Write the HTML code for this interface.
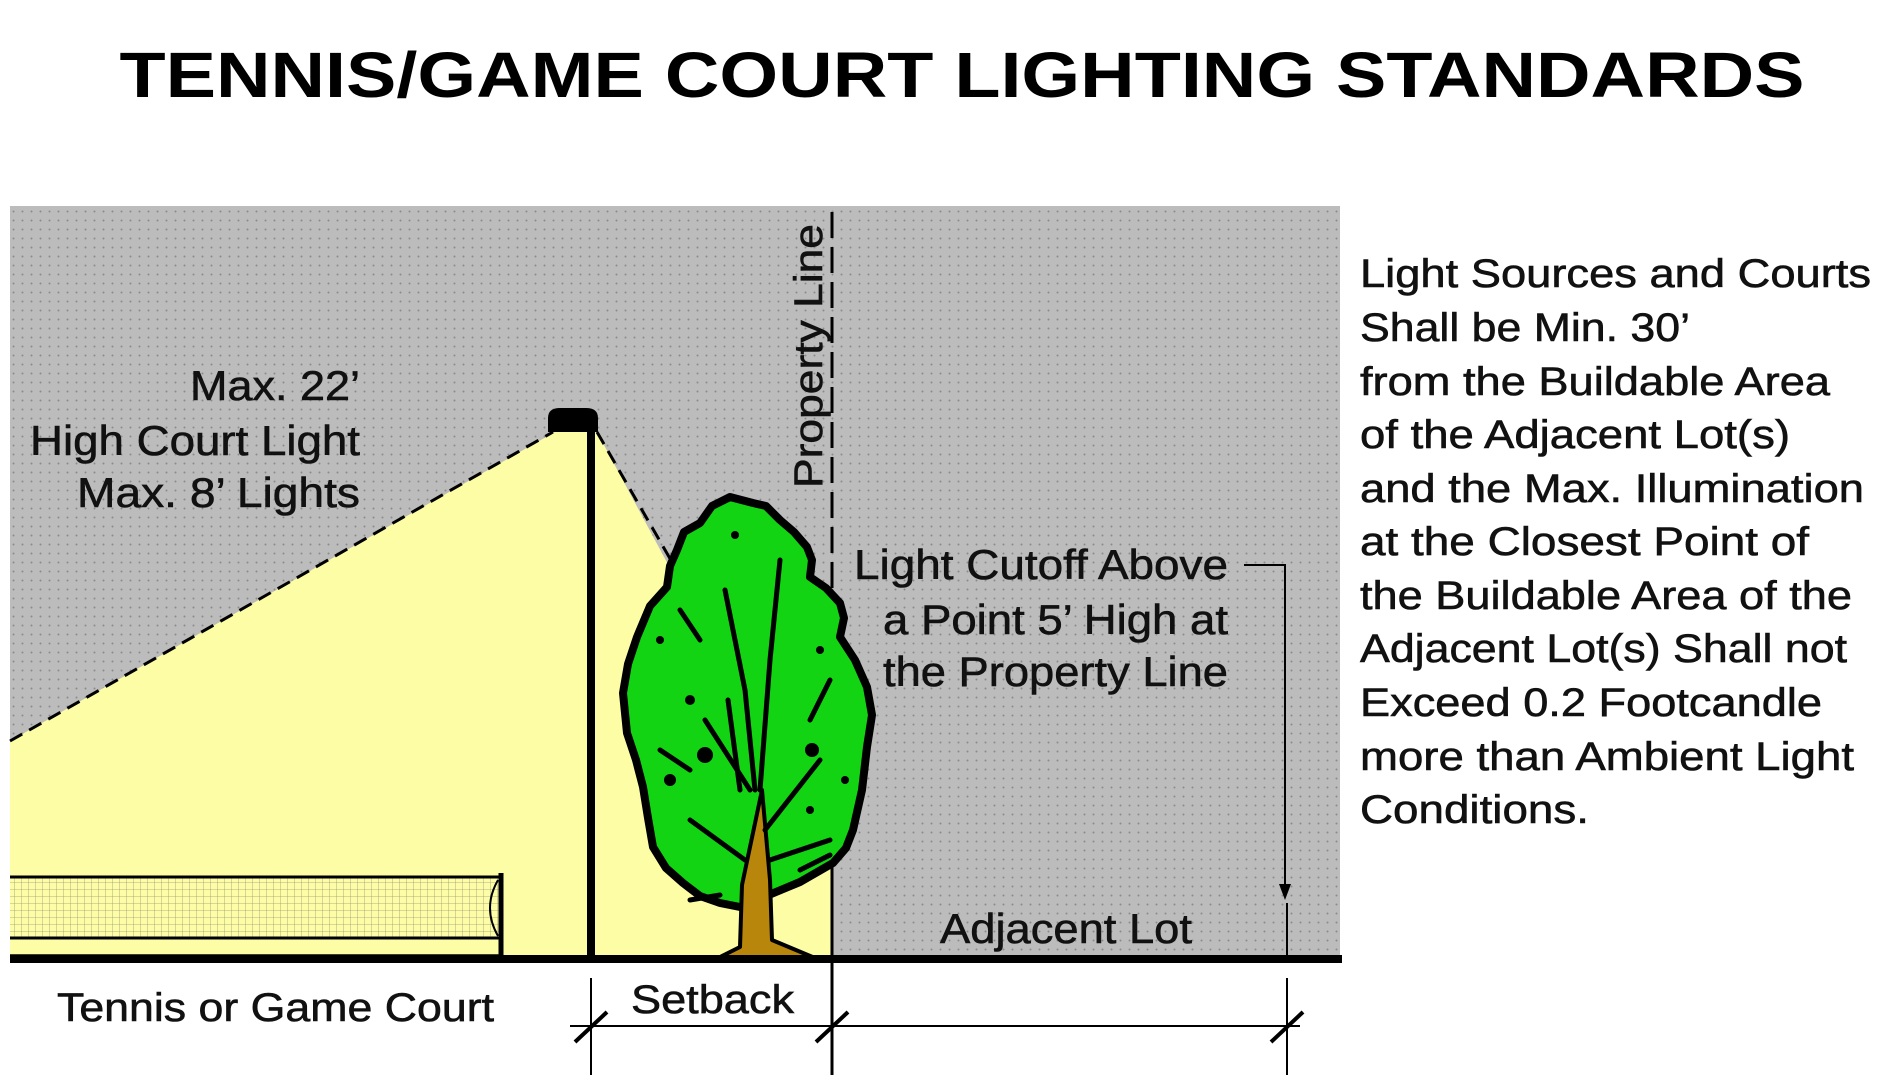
<!DOCTYPE html>
<html><head><meta charset="utf-8"><style>
html,body{margin:0;padding:0;background:#fff;}
svg{display:block;font-family:"Liberation Sans",Arial,sans-serif;}
</style></head><body>
<svg width="1898" height="1087" viewBox="0 0 1898 1087" xmlns="http://www.w3.org/2000/svg">
<defs>
<pattern id="dots" width="9" height="9" patternUnits="userSpaceOnUse">
<rect width="9" height="9" fill="#bcbcbc"/><circle cx="4.5" cy="4.5" r="1" fill="#8a8a8a"/>
</pattern>
<pattern id="grid" width="7" height="7" patternUnits="userSpaceOnUse">
<rect width="7" height="7" fill="#fdfda8"/><path d="M0 0H7M0 0V7" stroke="#9a9a70" stroke-width="0.8"/>
</pattern>
</defs>
<text x="962" y="97" text-anchor="middle" font-weight="bold" font-size="64" textLength="1685" lengthAdjust="spacingAndGlyphs">TENNIS/GAME COURT LIGHTING STANDARDS</text>

<rect x="10" y="206" width="1330" height="752" fill="url(#dots)"/>
<polygon points="10,741 555,432 597,432 832,870 832,958 10,958" fill="#fdfda5"/>
<line x1="10" y1="741" x2="553" y2="432" stroke="#000" stroke-width="3" stroke-dasharray="14,8"/>
<line x1="597" y1="432" x2="672" y2="562" stroke="#000" stroke-width="3" stroke-dasharray="14,8"/>

<!-- net -->
<rect x="10" y="877" width="490" height="61" fill="url(#grid)"/>
<line x1="10" y1="877" x2="500" y2="877" stroke="#000" stroke-width="3"/>
<line x1="10" y1="938" x2="500" y2="938" stroke="#000" stroke-width="3"/>
<line x1="10" y1="955" x2="500" y2="955" stroke="#000" stroke-width="1.5"/>
<path d="M498 880 Q482 908 498 936" fill="none" stroke="#000" stroke-width="2"/>
<line x1="501" y1="873" x2="501" y2="960" stroke="#000" stroke-width="5"/>

<!-- pole & lamp -->
<line x1="591" y1="430" x2="591" y2="960" stroke="#000" stroke-width="8"/>
<path d="M548 432 V418 Q548 408 560 408 H586 Q598 408 598 418 V432 Z" fill="#000"/>

<!-- property line -->
<line x1="832" y1="212" x2="832" y2="870" stroke="#000" stroke-width="3" stroke-dasharray="26,9"/>
<line x1="832" y1="868" x2="832" y2="1075" stroke="#000" stroke-width="3"/>

<!-- tree -->
<path d="M730,497 L712,506 L700,523 L684,532 L677,550 L670,566 L667,587 L650,606 L637,637 L628,664 L623,693 L627,733 L636,760 L643,787 L648,818 L653,847 L666,868 L683,883 L700,896 L720,903 L740,907 L800,882 L833,863 L846,848 L853,830 L862,790 L867,747 L872,715 L867,687 L855,660 L840,637 L844,618 L840,603 L826,588 L810,577 L812,560 L807,547 L794,532 L780,520 L766,506 L753,503 Z" fill="#12d412" stroke="#000" stroke-width="8" stroke-linejoin="round"/>
<path d="M742,885 L740,947 L718,958 L815,958 L772,940 L770,880 L762,790 Z" fill="#b8860b" stroke="#000" stroke-width="4" stroke-linejoin="round"/>
<g stroke="#000" stroke-width="5" fill="none" stroke-linecap="round">
<path d="M755 790 L745 690 L725 590"/><path d="M760 790 L770 660 L780 560"/><path d="M750 790 L705 720"/>
<path d="M765 830 L820 760"/><path d="M745 860 L690 820"/><path d="M770 860 L830 840"/>
<path d="M700 640 L680 610"/><path d="M810 720 L830 680"/><path d="M740 790 L728 700"/>
<path d="M660 750 L690 770"/><path d="M800 870 L830 855"/><path d="M690 900 L720 895"/>
</g>
<g fill="#000"><circle cx="690" cy="700" r="5"/><circle cx="820" cy="650" r="4"/><circle cx="735" cy="535" r="4"/><circle cx="845" cy="780" r="4"/><circle cx="670" cy="780" r="6"/><circle cx="810" cy="810" r="4"/><circle cx="705" cy="755" r="8"/><circle cx="812" cy="750" r="7"/><circle cx="660" cy="640" r="4"/></g>

<!-- ground -->
<rect x="10" y="955" width="1332" height="8" fill="#000"/>

<!-- labels -->
<g font-size="42" fill="#111" stroke="#111" stroke-width="0.6" text-anchor="end">
<text x="360" y="400" textLength="170" lengthAdjust="spacingAndGlyphs">Max. 22’</text>
<text x="360" y="455" textLength="330" lengthAdjust="spacingAndGlyphs">High Court Light</text>
<text x="360" y="507" textLength="283" lengthAdjust="spacingAndGlyphs">Max. 8’ Lights</text>
<text x="1228" y="579" textLength="374" lengthAdjust="spacingAndGlyphs">Light Cutoff Above</text>
<text x="1228" y="634" textLength="345" lengthAdjust="spacingAndGlyphs">a Point 5’ High at</text>
<text x="1228" y="686" textLength="345" lengthAdjust="spacingAndGlyphs">the Property Line</text>
</g>
<text transform="translate(822,488) rotate(-90)" font-size="40" fill="#111" stroke="#111" stroke-width="0.6" textLength="264" lengthAdjust="spacingAndGlyphs">Property Line</text>
<text x="940" y="943" font-size="42" fill="#111" stroke="#111" stroke-width="0.6" textLength="252" lengthAdjust="spacingAndGlyphs">Adjacent Lot</text>
<text x="57" y="1021" font-size="40" fill="#111" stroke="#111" stroke-width="0.6" textLength="437" lengthAdjust="spacingAndGlyphs">Tennis or Game Court</text>
<text x="631" y="1013" font-size="40" fill="#111" stroke="#111" stroke-width="0.6" textLength="163" lengthAdjust="spacingAndGlyphs">Setback</text>

<!-- leader arrow -->
<polyline points="1244,565 1285,565 1285,893" fill="none" stroke="#000" stroke-width="2"/>
<polygon points="1279,884 1291,884 1285,900" fill="#000"/>
<line x1="1287" y1="903" x2="1287" y2="958" stroke="#000" stroke-width="2"/>

<!-- dimension -->
<line x1="570" y1="1026" x2="1300" y2="1026" stroke="#000" stroke-width="2"/>
<line x1="591" y1="978" x2="591" y2="1075" stroke="#000" stroke-width="2"/>
<line x1="1287" y1="978" x2="1287" y2="1075" stroke="#000" stroke-width="2"/>
<g stroke="#000" stroke-width="4"><line x1="575" y1="1042" x2="607" y2="1012"/><line x1="816" y1="1042" x2="848" y2="1012"/><line x1="1271" y1="1042" x2="1303" y2="1012"/></g>

<!-- right text -->
<g font-size="40" fill="#111" stroke="#111" stroke-width="0.6">
<text x="1360" y="287" textLength="511" lengthAdjust="spacingAndGlyphs">Light Sources and Courts</text>
<text x="1360" y="341" textLength="330" lengthAdjust="spacingAndGlyphs">Shall be Min. 30’</text>
<text x="1360" y="395" textLength="470" lengthAdjust="spacingAndGlyphs">from the Buildable Area</text>
<text x="1360" y="448" textLength="430" lengthAdjust="spacingAndGlyphs">of the Adjacent Lot(s)</text>
<text x="1360" y="502" textLength="504" lengthAdjust="spacingAndGlyphs">and the Max. Illumination</text>
<text x="1360" y="555" textLength="449" lengthAdjust="spacingAndGlyphs">at the Closest Point of</text>
<text x="1360" y="609" textLength="492" lengthAdjust="spacingAndGlyphs">the Buildable Area of the</text>
<text x="1360" y="662" textLength="487" lengthAdjust="spacingAndGlyphs">Adjacent Lot(s) Shall not</text>
<text x="1360" y="716" textLength="462" lengthAdjust="spacingAndGlyphs">Exceed 0.2 Footcandle</text>
<text x="1360" y="770" textLength="494" lengthAdjust="spacingAndGlyphs">more than Ambient Light</text>
<text x="1360" y="823" textLength="229" lengthAdjust="spacingAndGlyphs">Conditions.</text>
</g>
</svg>
</body></html>
